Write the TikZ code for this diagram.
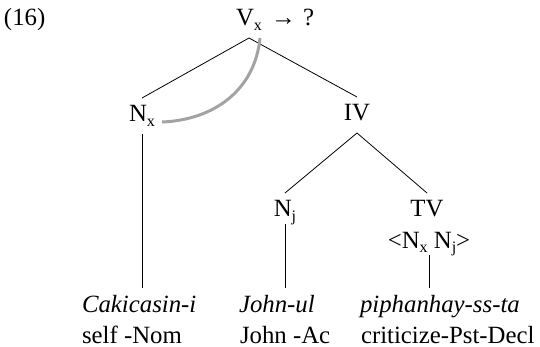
\documentclass[tikz,border=0pt]{standalone}
\usepackage{fontspec}
\setmainfont{Liberation Serif}
\newcommand\subsc[1]{\raisebox{-4.5pt}{\fontsize{16}{16}\selectfont #1}}
\begin{document}
\begin{tikzpicture}[x=1pt,y=-1pt,
  lab/.style={inner sep=0pt, outer xsep=0pt, outer ysep=7pt, text height=17pt, text depth=5pt, anchor=base, font=\fontsize{24.8}{28}\selectfont},
  lowlab/.style={lab, text depth=0pt},
  glossit/.style={lab, anchor=base west, font=\fontsize{24.8}{28}\selectfont\itshape},
  glossrm/.style={lab, anchor=base west},
  edge/.style={line width=0.8pt, black},
  bind/.style={line width=3pt, color=black!36, line cap=butt}]
\useasboundingbox (0,0) rectangle (540,347);
% labels
\node[lab, anchor=base west] (num) at (4,26) {(16)};
\node[lab] (V) at (249,26) {V\subsc{x}};
\node[lab, anchor=base west] (arr) at (271,26) {→\hspace{0.3em}?};
\node[lab] (Nx) at (142,122) {N\subsc{x}};
\node[lab] (IV) at (357,121) {IV};
\node[lowlab] (Nj) at (285,217) {N\subsc{j}};
\node[lab] (TV) at (427,217) {TV};
\node[lowlab] (TVarg) at (429,248) {<N\subsc{x} N\subsc{j}>};
% glosses
\node[glossit] (Cak) at (82,312) {Cakicasin-i};
\node[glossrm] (self) at (82,343) {self -Nom};
\node[glossit] (John) at (239,312) {John-ul};
\node[glossrm] (JohnAc) at (240,343) {John -Ac};
\node[glossit] (piph) at (360,312) {piphanhay-ss-ta};
\node[glossrm] (crit) at (361,343) {criticize-Pst-Decl};
% tree edges
\draw[edge] (V.south) -- (Nx.north);
\draw[edge] (V.south) -- (IV.north);
\draw[edge] (IV.south) -- (Nj.north);
\draw[edge] (IV.south) -- (TV.north);
\draw[edge] (Nx.south) -- (Nx.south |- Cak.north);
\draw[edge] (Nj.south) -- (Nj.south |- John.north);
\draw[edge] (TVarg.south) -- (TVarg.south |- piph.north);
% binding curve
\draw[bind] ([xshift=7pt]Nx.base east) .. controls +(52,-2) and +(-5,52) .. ([xshift=11pt]V.south);
\end{tikzpicture}
\end{document}
